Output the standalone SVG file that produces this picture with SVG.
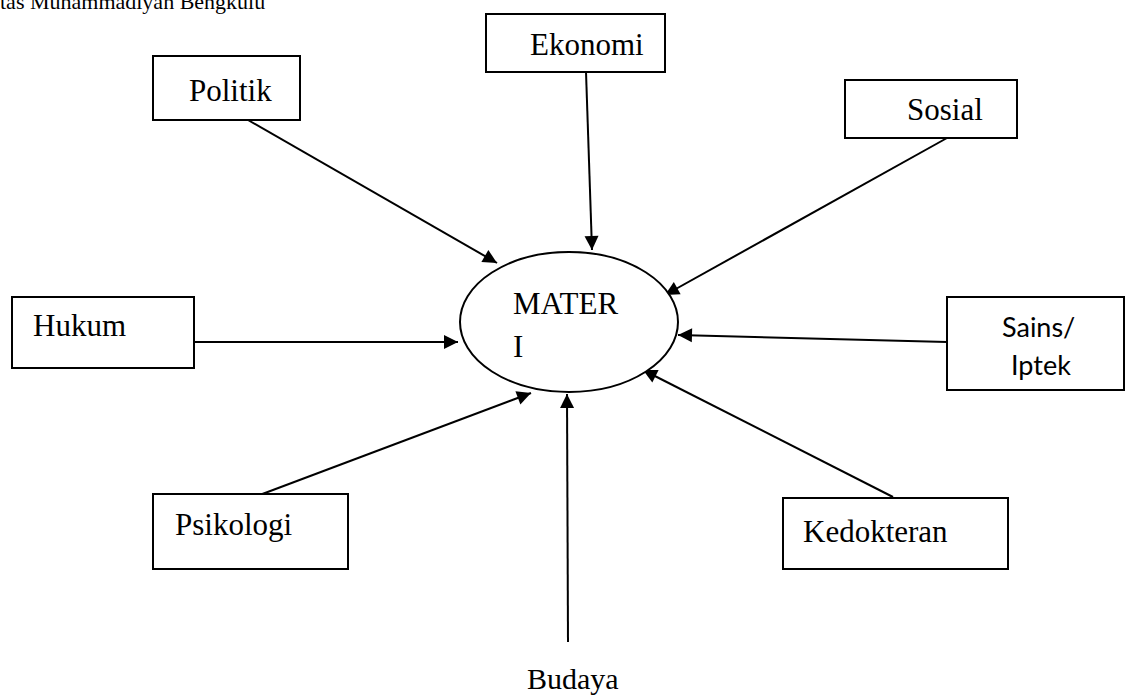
<svg xmlns="http://www.w3.org/2000/svg" width="1126" height="697" viewBox="0 0 1126 697">
  <style>
    .box { fill: #ffffff; stroke: #000000; stroke-width: 2; }
    .lbl { font-family: "Liberation Serif", "Times New Roman", serif; font-size: 31px; fill: #000000; }
    .sans { font-family: Lato, "Liberation Sans", sans-serif; font-size: 27px; fill: #000000; }
    .hdr { font-family: "Liberation Serif", "Times New Roman", serif; font-size: 22px; fill: #000000; }
    .edge { stroke: #000000; stroke-width: 2; fill: none; marker-end: url(#arrow); }
  </style>
  <defs>
    <!-- filled triangular arrowhead, tip on the line end -->
    <marker id="arrow" viewBox="0 0 10 10" refX="10" refY="5" markerWidth="8" markerHeight="8" markerUnits="userSpaceOnUse" orient="auto" overflow="visible">
      <path d="M0,0 L10,5 L0,10 Z" fill="#000000" transform="scale(1.75)" transform-origin="10 5"/>
    </marker>
  </defs>
  <rect width="1126" height="697" fill="#ffffff"/>

  <text class="hdr" x="0" y="9">tas Muhammadiyah Bengkulu</text>

  <g id="connectors">
    <line class="edge" x1="248" y1="120" x2="497" y2="263"/>
    <line class="edge" x1="586" y1="72" x2="592" y2="250"/>
    <line class="edge" x1="947" y1="138" x2="665" y2="295"/>
    <line class="edge" x1="194" y1="342" x2="458" y2="342"/>
    <line class="edge" x1="947" y1="342" x2="678" y2="335"/>
    <line class="edge" x1="257" y1="496" x2="531" y2="393"/>
    <line class="edge" x1="893" y1="497" x2="643" y2="370"/>
    <line class="edge" x1="568" y1="642" x2="567" y2="394"/>
  </g>

  <g id="node-materi">
    <ellipse cx="569" cy="322" rx="109" ry="70" fill="#ffffff" stroke="#000000" stroke-width="2"/>
    <text class="lbl" x="513" y="314">MATER</text>
    <text class="lbl" x="513" y="357">I</text>
  </g>

  <g id="node-politik">
    <rect class="box" x="153" y="56" width="147" height="64"/>
    <text class="lbl" x="189" y="101">Politik</text>
  </g>

  <g id="node-ekonomi">
    <rect class="box" x="486" y="14" width="179" height="58"/>
    <text class="lbl" x="530" y="55">Ekonomi</text>
  </g>

  <g id="node-sosial">
    <rect class="box" x="845" y="80" width="172" height="58"/>
    <text class="lbl" x="907" y="120">Sosial</text>
  </g>

  <g id="node-hukum">
    <rect class="box" x="12" y="297" width="182" height="71"/>
    <text class="lbl" x="33" y="336">Hukum</text>
  </g>

  <g id="node-sains">
    <rect class="box" x="947" y="297" width="177" height="93"/>
    <text class="sans" x="1002" y="337">Sains/</text>
    <text class="sans" x="1011" y="375">Iptek</text>
  </g>

  <g id="node-psikologi">
    <rect class="box" x="153" y="494" width="195" height="75"/>
    <text class="lbl" x="175" y="535">Psikologi</text>
  </g>

  <g id="node-kedokteran">
    <rect class="box" x="783" y="498" width="225" height="71"/>
    <text class="lbl" x="803" y="542">Kedokteran</text>
  </g>

  <g id="node-budaya">
    <text class="lbl" x="527" y="689" style="font-size:30px">Budaya</text>
  </g>
</svg>
